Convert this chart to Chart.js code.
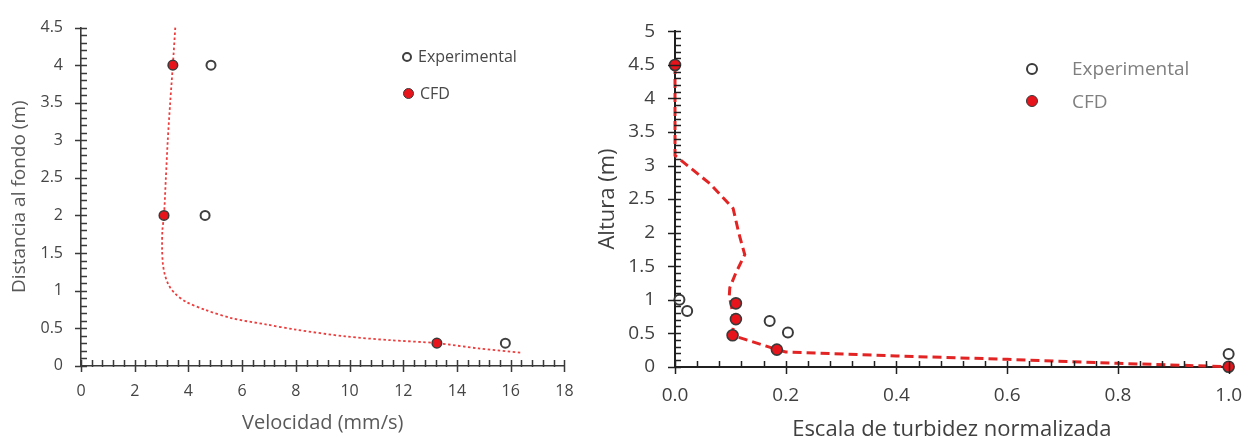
<!DOCTYPE html>
<html>
<head>
<meta charset="utf-8">
<script src="https://cdn.jsdelivr.net/npm/chart.js@4.4.1/dist/chart.umd.min.js"></script>
<style>
  html, body { margin: 0; padding: 0; background: #fff; }
  #wrap { position: relative; width: 1259px; height: 444px; overflow: hidden; background: #fff; font-family: 'Open Sans', sans-serif; }
  .cv { position: absolute; top: 0; }
  .lg { position: absolute; white-space: nowrap; line-height: 20px; }
  .mk { position: absolute; border-radius: 50%; box-sizing: border-box; }
</style>
</head>
<body>
<div id="wrap">
  <canvas id="c1" class="cv" width="590" height="444" style="left:0;width:590px;height:444px"></canvas>
  <canvas id="c2" class="cv" width="669" height="444" style="left:590px;width:669px;height:444px"></canvas>

  <div class="mk" style="left:402px;top:52px;width:10px;height:10px;border:2px solid #404040;background:#fff"></div>
  <div class="lg" style="left:418px;top:46px;font-size:16px;color:#484848">Experimental</div>
  <div class="mk" style="left:403px;top:88px;width:11px;height:11px;border:1.5px solid #3a3a3a;background:#e8141c"></div>
  <div class="lg" style="left:420px;top:83px;font-size:16px;color:#484848">CFD</div>

  <div class="mk" style="left:1026px;top:63px;width:12px;height:12px;border:2px solid #3a3a3a;background:#fff"></div>
  <div class="lg" style="left:1072px;top:57px;font-size:19px;line-height:22px;color:#7f7f7f">Experimental</div>
  <div class="mk" style="left:1026px;top:95px;width:12px;height:12px;border:1.5px solid #3a3a3a;background:#e8141c"></div>
  <div class="lg" style="left:1072px;top:90px;font-size:19px;line-height:22px;color:#7f7f7f">CFD</div>
</div>
<script>
// ---------- Left chart data: velocity (mm/s) vs distance to bottom (m) ----------
const velExpX = [4.84, 4.62, 15.8];
const velExpY = [4.0, 2.0, 0.3];
const velCfdX = [3.42, 3.09, 13.25];
const velCfdY = [4.0, 2.0, 0.3];
const velCurveX = [3.51, 3.42, 3.32, 3.23, 3.16, 3.09, 3.03, 3.02, 3.05, 3.13, 3.27, 3.5, 3.91, 4.65, 5.64, 6.88, 8.0, 9.84, 11.5, 13.25, 14.8, 16.44];
const velCurveY = [4.5, 4.0, 3.5, 3.0, 2.5, 2.0, 1.8, 1.55, 1.35, 1.2, 1.07, 0.96, 0.85, 0.74, 0.63, 0.55, 0.48, 0.39, 0.34, 0.30, 0.23, 0.17];

// ---------- Right chart data: normalized turbidity vs height (m) ----------
const turbExpX = [0.008, 0.022, 0.171, 0.204, 1.0];
const turbExpY = [1.0, 0.83, 0.68, 0.51, 0.19];
const turbCfdX = [0.0, 0.11, 0.11, 0.104, 0.184, 1.0];
const turbCfdY = [4.5, 0.945, 0.71, 0.468, 0.255, 0.0];
const turbLineX = [0.0, 0.0, 0.063, 0.105, 0.115, 0.126, 0.11, 0.099, 0.098, 0.102, 0.106, 0.104, 0.184, 0.2, 0.4, 0.6, 0.8, 1.0];
const turbLineY = [4.5, 3.15, 2.73, 2.36, 2.0, 1.67, 1.4, 1.18, 1.05, 0.9, 0.7, 0.468, 0.255, 0.22, 0.16, 0.11, 0.05, 0.0];

// Axis tick labels
const velXTicks = ['0', '2', '4', '6', '8', '10', '12', '14', '16', '18'];
const velYTicks = ['0', '0.5', '1', '1.5', '2', '2.5', '3', '3.5', '4', '4.5'];
const turbXTicks = ['0.0', '0.2', '0.4', '0.6', '0.8', '1.0'];
const turbYTicks = ['0', '0.5', '1', '1.5', '2', '2.5', '3', '3.5', '4', '4.5', '5'];

const pts = (xs, ys) => xs.map((x, i) => ({ x: x, y: ys[i] }));
const tickSet = labels => (s => { s.ticks = labels.map(t => ({ value: parseFloat(t) })); });
const tickLabel = labels => ((v, i) => labels[i]);

Chart.defaults.font.family = "'Open Sans', sans-serif";
Chart.defaults.devicePixelRatio = 1;

// draws major (crossing) and minor (inside) tick marks on both axes, via the chart's own scales
const axisTicks = {
  id: 'axisTicks',
  afterDatasetsDraw(chart, args, o) {
    const ctx = chart.ctx;
    const ca = chart.chartArea;
    const xs = chart.scales.x, ys = chart.scales.y;
    const ax = Math.round(ca.left), ay = Math.round(ca.bottom);
    ctx.save();
    ctx.strokeStyle = o.color;
    ctx.lineWidth = o.width;
    ctx.lineCap = 'butt';
    const isMaj = (v, m) => Math.abs(v / m - Math.round(v / m)) < 1e-6;
    ctx.beginPath();
    let n = Math.round((xs.max - xs.min) / o.xMinor);
    for (let i = 0; i <= n; i++) {
      const v = xs.min + i * o.xMinor;
      const px = Math.round(xs.getPixelForValue(v)) + 0.5;
      const maj = isMaj(v, o.xMajor);
      ctx.moveTo(px, ay - o.inner);
      ctx.lineTo(px, ay + (maj ? o.outer : 1));
    }
    n = Math.round((ys.max - ys.min) / o.yMinor);
    for (let i = 0; i <= n; i++) {
      const v = ys.min + i * o.yMinor;
      const py = Math.round(ys.getPixelForValue(v)) + 0.5;
      const maj = isMaj(v, o.yMajor);
      ctx.moveTo(ax + o.inner, py);
      ctx.lineTo(ax - (maj ? o.outer : 1), py);
    }
    ctx.stroke();
    ctx.restore();
  }
};

// ---------------- Left chart ----------------
new Chart(document.getElementById('c1'), {
  type: 'scatter',
  plugins: [axisTicks],
  data: {
    datasets: [
      { label: 'CFD', data: pts(velCfdX, velCfdY), order: 1, clip: false,
        pointRadius: 4.8, pointBackgroundColor: '#e8141c', pointBorderColor: '#3a3a3a', pointBorderWidth: 1.5, showLine: false },
      { label: 'Experimental', data: pts(velExpX, velExpY), order: 2, clip: false,
        pointRadius: 4.5, pointBackgroundColor: '#ffffff', pointBorderColor: '#404040', pointBorderWidth: 2, showLine: false },
      { label: 'curve', data: pts(velCurveX, velCurveY), order: 5, clip: false, showLine: true,
        pointRadius: 0, borderColor: 'rgba(236,50,50,0.95)', borderWidth: 1.8, borderDash: [2.5, 2.5], tension: 0.3, fill: false }
    ]
  },
  options: {
    responsive: false, animation: false, events: [],
    layout: { padding: { left: 0, top: 15.3, right: 23, bottom: 0 } },
    plugins: {
      legend: { display: false }, tooltip: { enabled: false },
      axisTicks: { color: '#3a3a3a', width: 1.5, inner: 6, outer: 6, xMinor: 0.4, xMajor: 2, yMinor: 0.1, yMajor: 0.5 }
    },
    scales: {
      x: {
        type: 'linear', min: 0, max: 18,
        afterFit: s => { s.height = 444 - 365.7; },
        afterBuildTicks: tickSet(velXTicks),
        ticks: { padding: 16.4, color: '#454545', font: { size: 16 }, autoSkip: false, maxRotation: 0, callback: tickLabel(velXTicks) },
        grid: { display: false, drawTicks: false },
        border: { display: true, color: '#3a3a3a', width: 1.6 },
        title: { display: true, text: 'Velocidad (mm/s)', color: '#595959', font: { size: 20 }, padding: { top: 0, bottom: 9 } }
      },
      y: {
        type: 'linear', min: 0, max: 4.5,
        afterFit: s => { s.width = 81; },
        afterBuildTicks: tickSet(velYTicks),
        ticks: { padding: 18, color: '#454545', font: { size: 16 }, autoSkip: false, callback: tickLabel(velYTicks) },
        grid: { display: false, drawTicks: false },
        border: { display: true, color: '#3a3a3a', width: 1.6 },
        title: { display: true, text: 'Distancia al fondo (m)', color: '#595959', font: { size: 19 }, padding: { top: 8.6, bottom: 0 } }
      }
    }
  }
});

// ---------------- Right chart ----------------
new Chart(document.getElementById('c2'), {
  type: 'scatter',
  plugins: [axisTicks],
  data: {
    datasets: [
      { label: 'CFD', data: pts(turbCfdX, turbCfdY), order: 1, clip: false,
        pointRadius: 5.5, pointBackgroundColor: '#e8141c', pointBorderColor: '#3a3a3a', pointBorderWidth: 1.6, showLine: false },
      { label: 'Experimental', data: pts(turbExpX, turbExpY), order: 2, clip: false,
        pointRadius: 5, pointBackgroundColor: '#ffffff', pointBorderColor: '#3a3a3a', pointBorderWidth: 2, showLine: false },
      { label: 'line', data: pts(turbLineX, turbLineY), order: 5, clip: false, showLine: true,
        pointRadius: 0, borderColor: '#e22424', borderWidth: 3, borderDash: [9, 5], tension: 0, fill: false }
    ]
  },
  options: {
    responsive: false, animation: false, events: [],
    layout: { padding: { left: 0, top: 28.3, right: 28, bottom: 0 } },
    plugins: {
      legend: { display: false }, tooltip: { enabled: false },
      axisTicks: { color: '#202020', width: 1.5, inner: 6, outer: 7, xMinor: 0.04, xMajor: 0.2, yMinor: 0.1, yMajor: 0.5 }
    },
    scales: {
      x: {
        type: 'linear', min: 0, max: 1,
        afterFit: s => { s.height = 444 - 366.7; },
        afterBuildTicks: tickSet(turbXTicks),
        ticks: { padding: 17, color: '#404040', font: { size: 19 }, autoSkip: false, maxRotation: 0, callback: tickLabel(turbXTicks) },
        grid: { display: false, drawTicks: false },
        border: { display: true, color: '#202020', width: 2 },
        title: { display: true, text: 'Escala de turbidez normalizada', color: '#404040', font: { size: 22 }, padding: { top: 0, bottom: 1 } }
      },
      y: {
        type: 'linear', min: 0, max: 5,
        afterFit: s => { s.width = 85; },
        afterBuildTicks: tickSet(turbYTicks),
        ticks: { padding: 20, color: '#404040', font: { size: 19 }, autoSkip: false, callback: tickLabel(turbYTicks) },
        grid: { display: false, drawTicks: false },
        border: { display: true, color: '#202020', width: 2 },
        title: { display: true, text: 'Altura (m)', color: '#404040', font: { size: 22 }, padding: { top: 4.8, bottom: 0 } }
      }
    }
  }
});
</script>
</body>
</html>
